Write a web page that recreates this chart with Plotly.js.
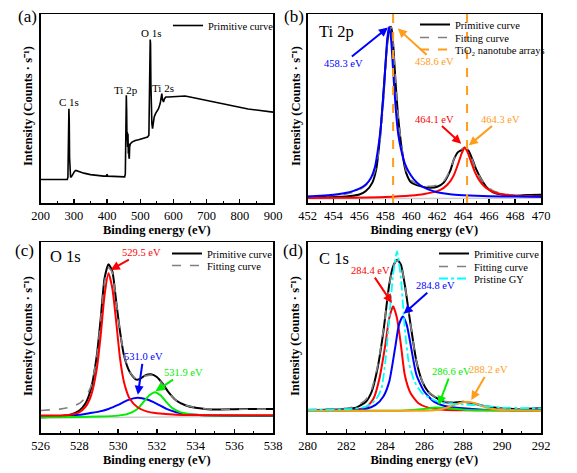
<!DOCTYPE html>
<html><head><meta charset="utf-8">
<script src="https://cdn.plot.ly/plotly-3.0.1.min.js"></script>
<style>html,body{margin:0;padding:0;background:#fff}#chart{width:577px;height:473px}</style>
</head><body><div id="chart"></div>
<script>
// ---------- (a) survey ----------
const surveyX = [200,220,240,260,275,280,282,283,284,285,286,287,288,290,293,297,302,306,315,330,350,370,390,398,400,402,420,440,453,455,456,457,458,459,460,461,462,463,464,465,466,467,468,470,475,485,495,505,515,522,526,528,529,530,531,532,533,535,537,539,542,546,550,555,560,563,565,567,570,573,577,585,600,620,635,650,675,700,725,750,775,800,825,850,875,900];
const surveyY = [12.4,12.4,12.2,12.2,12.2,12.4,13.6,22.5,40.2,49.9,43.7,24.2,14.5,13.6,14,15.4,16.8,17.2,16.6,15.8,15,14.5,14.2,14.2,15.2,14.2,14,13.8,13.8,15.4,27.8,45.5,57,49,33.1,37.5,29.6,36.6,26,31.3,24.2,23.4,29.6,31.3,32.2,33.1,33.5,34,34.5,34.9,35.8,54.3,75.6,86.5,84.4,63.2,49,41.9,39.3,41.9,45.5,47.3,48.5,49.9,52.6,57,57.9,54.7,53.5,55.2,56.1,56.1,56.3,56.5,56.6,56.1,55.2,54,53.1,52.2,51.2,50.4,49.7,49.2,48.7,48.1];
const surveyPeakNames = ['C 1s','Ti 2p','O 1s','Ti 2s'];
const surveyPeakX = [286,458,531,570];
const surveyPeakY = [53.5,60,89.7,61];

// ---------- (b) Ti 2p ----------
const tiX = [452,453,454,455,455.5,456,456.5,457,457.3,457.6,457.9,458.1,458.3,458.45,458.6,458.8,459,459.3,459.6,460,460.5,461,461.5,462,462.5,463,463.3,463.6,463.9,464.1,464.4,464.7,465,465.4,465.8,466.3,467,468,469,470];
const tiRawY = [3.2,3.2,3.3,3.5,3.8,4.5,6.3,10.8,17.9,35.8,62.7,80.6,92.3,93.2,84.2,62.7,44.8,26.9,16.1,10.8,9.3,8.4,8.1,8.6,10.8,17,23.3,26.9,28.1,29.2,27.8,23.3,17.9,12.5,8.4,5.7,4.5,3.9,4.2,4.3];
const tiFitY = [3.4,3.6,4.0,4.8,5.6,7,9.5,13.5,19.5,33,58,80,92,93,84,63,45,28,17.5,12,10,9,8.8,9.5,11.5,17.5,23.5,27,28.5,29.5,28,23,17.5,12.5,9,6.5,5,4,3.8,3.6];
const ti32X = [452,453,454,455,455.5,456,456.5,456.9,457.2,457.4,457.6,457.8,458,458.15,458.3,458.45,458.6,458.8,459,459.2,459.5,459.8,460.2,460.7,461.3,462,463,464,465,466,468,470];
const ti32Y = [3.4,3.8,4.4,5.4,6.3,7.6,9.8,13.4,19,26.9,37,52,72,87,93.2,86,70,50,36,28.7,21,16.5,12.5,9.3,7.2,5.7,4.6,4.1,3.8,3.6,3.4,3.3];
const ti12X = [452,455,458,460,461,462,462.5,463,463.3,463.6,463.9,464.1,464.3,464.6,464.9,465.2,465.6,466,466.5,467,468,470];
const ti12Y = [2.6,2.8,3.2,4,4.8,6.3,8,11.5,15,20.5,26.5,29.2,27.5,22,16.5,12.5,9,7,5.4,4.6,3.8,3.3];
const tiBaseX = [452,470];
const tiBaseY = [2.3,2.6];
const tio2RefX = [458.6,464.3];
const tiLabels = ['458.3 eV','458.6 eV','464.1 eV','464.3 eV'];

// ---------- (c) O 1s ----------
const oX = [526,527,527.5,528,528.3,528.6,528.9,529.1,529.3,529.5,529.7,529.9,530.1,530.3,530.6,530.9,531.1,531.4,531.7,532,532.3,532.6,533,533.5,534,534.5,535,536,537,538];
const oRawY = [8.2,8.8,9.5,11.8,15.3,23.2,40.7,60,81,88.4,84.6,68.8,53,40.7,31.9,28.1,28.1,30.2,30.7,29.3,25.8,21.4,17,14.4,13.2,12.6,12.3,12.5,12.6,12.6];
const oFitY = [11.8,12.5,13.5,15.5,18.5,24.5,40,59,79,86.5,84,69,53,41,32,28.5,28.3,29.8,30.3,29,25.5,21.2,17,14.5,13.3,12.7,12.4,12.4,12.5,12.5];
const oRedX = [526,527,527.5,528,528.3,528.6,528.9,529.1,529.3,529.5,529.7,529.9,530.1,530.3,530.6,531,531.5,532,533,534,536,538];
const oRedY = [9.1,9.2,9.5,10.9,13.5,19.6,33.7,51.2,72.3,83.7,75.8,58.2,38.9,26.7,17.9,13.5,11.2,10.4,9.6,9.4,9.3,9.3];
const oBlueX = [526,527,528,528.5,529,529.5,530,530.5,531,531.5,532,532.5,533,533.5,534,535,538];
const oBlueY = [8.8,8.9,9.5,10.4,11.2,12.6,14.7,17.2,18.4,17.5,15.3,12.6,10.9,10,9.5,9.1,8.9];
const oGreenX = [526,528,529,530,530.5,531,531.3,531.6,531.9,532.2,532.5,532.8,533.2,533.7,534.5,536,538];
const oGreenY = [8.2,8.4,8.6,9.1,10,12.6,16.1,19.6,21.4,19.6,16.1,13,10.9,9.8,9.3,9.1,9.1];
const oBaseX = [526,538];
const oBaseY = [7.9,8.8];
const oLabels = ['529.5 eV','531.0 eV','531.9 eV'];

// ---------- (d) C 1s ----------
const cX = [280,281,282,282.5,283,283.3,283.6,283.9,284.2,284.4,284.6,284.8,285,285.3,285.6,285.9,286.2,286.6,287,287.5,288,288.5,289,289.5,290,291,292];
const cRawY = [12.1,12.2,12.6,13.3,16.4,21.7,33.9,53.1,77.6,87.2,90.7,88.1,77.6,56.6,37.4,26.9,21.7,18.5,16.4,15.9,16.4,15.6,14.3,13.5,12.9,12.6,12.9];
const cFitY = [12.3,12.5,13,14,17.5,23,35,54,77,87,90.5,88,77.5,56.5,37.5,27,21.8,18.6,16.6,16,16.2,15.6,14.4,13.5,12.9,12.6,12.5];
const gyX = [280,282,283,283.5,283.8,284,284.2,284.4,284.6,284.8,285,285.2,285.5,285.9,286.5,287,288,289,290,292];
const gyY = [12.1,12.4,13.8,17.3,23.4,37.4,60.1,82.9,95.1,81.1,54.9,37.4,26.9,20.8,17.3,15.6,15,14.3,13.3,12.9];
const cRedX = [280,282,283,283.4,283.7,284,284.2,284.4,284.6,284.8,285,285.3,285.7,286.2,287,288,292];
const cRedY = [11.7,11.9,13.3,18.2,28.7,46.2,60.1,66.3,60.1,46.2,30.4,20.8,15.6,13.3,12.2,11.9,11.7];
const cBlueX = [280,282,283,283.5,283.9,284.2,284.5,284.7,284.9,285.1,285.3,285.6,286,286.5,287,288,289,292];
const cBlueY = [11.7,11.9,12.6,14.7,19.1,26.9,44.4,56.6,61,56.6,46.2,30.4,21.7,16.4,14.3,12.9,12.2,11.9];
const cGreenX = [280,285,286,286.6,287.2,288,289,292];
const cGreenY = [11.7,11.8,12.6,13.3,12.9,12.2,11.9,11.7];
const cOrangeX = [280,286,286.8,287.3,287.8,288.2,288.6,289,289.5,290,292];
const cOrangeY = [11.7,11.7,12.2,13.8,15.6,16.4,15.6,14,12.6,12.1,11.7];
const cLabels = ['284.4 eV','284.8 eV','286.6 eV','288.2 eV'];

// ---------- styling ----------
const FONT = '"Liberation Serif", "Times New Roman", Times, serif';
const BLUE = '#0000ff', RED = '#ff0000', GREEN = '#00ee00', ORANGE = '#ff9c1a', CYAN = '#00ffff', GRAY = '#808080';

function tr(x, y, ax, color, opt) {
  opt = opt || {};
  const t = {
    type: 'scatter', mode: 'lines', x: x, y: y,
    xaxis: 'x' + (ax === 1 ? '' : ax), yaxis: 'y' + (ax === 1 ? '' : ax),
    line: {color: color, width: opt.width || 2, dash: opt.dash || 'solid', shape: opt.linear ? 'linear' : 'spline', smoothing: 0.6},
    showlegend: !!opt.name, name: opt.name || '', hoverinfo: 'skip'
  };
  if (opt.legend) t.legend = opt.legend;
  return t;
}

// vertical reference lines for TiO2 nanotube arrays, built from tio2RefX
const refX = [], refY = [];
tio2RefX.forEach(v => { refX.push(v, v, null); refY.push(0, 100, null); });

const data = [
  tr(surveyX, surveyY, 1, '#000', {name: 'Primitive curve', width: 1.6, linear: true, legend: 'legend'}),

  tr(tiBaseX, tiBaseY, 2, '#cccccc', {width: 1.5}),
  tr(tiX, tiRawY, 2, '#000', {name: 'Primitive curve', legend: 'legend2'}),
  tr(tiX, tiFitY, 2, GRAY, {name: 'Fitting curve', dash: 'dash', width: 1.6, legend: 'legend3'}),
  tr(ti12X, ti12Y, 2, RED),
  tr(ti32X, ti32Y, 2, BLUE),
  tr(refX, refY, 2, ORANGE, {name: 'TiO₂ nanotube arrays', dash: 'dash', width: 2, linear: true, legend: 'legend4'}),

  tr(oBaseX, oBaseY, 3, '#cccccc', {width: 1.5}),
  tr(oX, oRawY, 3, '#000', {name: 'Primitive curve', legend: 'legend5'}),
  tr(oX, oFitY, 3, GRAY, {name: 'Fitting curve', dash: 'dash', width: 1.6, legend: 'legend6'}),
  tr(oBlueX, oBlueY, 3, BLUE),
  tr(oGreenX, oGreenY, 3, GREEN),
  tr(oRedX, oRedY, 3, RED),

  tr(cX, cRawY, 4, '#000', {name: 'Primitive curve', legend: 'legend7'}),
  tr(cX, cFitY, 4, GRAY, {name: 'Fitting curve', dash: 'dash', width: 1.6, legend: 'legend8'}),
  tr(cRedX, cRedY, 4, RED),
  tr(cBlueX, cBlueY, 4, BLUE),
  tr(cGreenX, cGreenY, 4, GREEN),
  tr(cOrangeX, cOrangeY, 4, ORANGE),
  tr(gyX, gyY, 4, CYAN, {name: 'Pristine GY', dash: 'dashdot', width: 1.8, legend: 'legend9'})
];

function xax(range, dtick, minor, dom, anchor) {
  return {
    domain: dom, anchor: anchor, range: range, dtick: dtick, tick0: range[0],
    ticks: 'inside', ticklen: 4, tickwidth: 1.3, tickcolor: '#000',
    minor: {dtick: minor, ticks: 'inside', ticklen: 2.5, tickwidth: 1, tickcolor: '#000'},
    showline: true, linecolor: '#000', linewidth: 1.5, mirror: true,
    showgrid: false, zeroline: false,
    tickfont: {family: FONT, size: 12.5, color: '#000'},
    title: {text: '<b>Binding energy (eV)</b>', font: {family: FONT, size: 12.5, color: '#000'}, standoff: 3}
  };
}
function yax(dom, anchor) {
  return {
    domain: dom, anchor: anchor, range: [0, 100], showticklabels: false, ticks: '',
    showline: true, linecolor: '#000', linewidth: 1.5, mirror: true,
    showgrid: false, zeroline: false
  };
}

const W = 577, H = 473;
const dxL = [40.7 / W, 273 / W], dxR = [307.5 / W, 541 / W];
const dyT = [1 - 203 / H, 1 - 14 / H], dyB = [1 - 433 / H, 1 - 242 / H];

function txt(x, y, ref, s, color, size, extra) {
  return Object.assign({x: x, y: y, xref: 'x' + ref, yref: 'y' + ref, text: s, showarrow: false,
    font: {family: FONT, size: size, color: color}}, extra || {});
}
// label placed at (tx, ty) with an arrow pointing at (hx, hy)
function lab(hx, hy, tx, ty, ref, s, color) {
  return {x: hx, y: hy, ax: tx, ay: ty, xref: 'x' + ref, yref: 'y' + ref, axref: 'x' + ref, ayref: 'y' + ref,
    text: s, showarrow: true, arrowhead: 2, arrowsize: 0.9, arrowwidth: 2, arrowcolor: color, standoff: 0,
    font: {family: FONT, size: 10.5, color: color}};
}
function paperText(s, px, py, size, extra) {
  return Object.assign({x: px / W, y: 1 - py / H, xref: 'paper', yref: 'paper', xanchor: 'center', yanchor: 'middle',
    text: s, showarrow: false, font: {family: FONT, size: size, color: '#000'}}, extra || {});
}
const yTitle = '<b>Intensity (Counts · s⁻¹)</b>';

const annotations = [
  paperText('(a)', 27, 17, 17), paperText('(b)', 294, 17, 17), paperText('(c)', 24, 250, 17), paperText('(d)', 293, 250, 17),
  paperText(yTitle, 28, 106, 12.5, {textangle: -90}),
  paperText(yTitle, 296, 106, 12.5, {textangle: -90}),
  paperText(yTitle, 28, 336, 12.5, {textangle: -90}),
  paperText(yTitle, 295, 336, 12.5, {textangle: -90}),
  // (a)
  ...surveyPeakNames.map((n, i) => txt(surveyPeakX[i], surveyPeakY[i], '', n, '#000', 11)),
  // (b)
  txt(452.7, 90.5, '2', 'Ti 2p', '#000', 16.5, {xanchor: 'left'}),
  lab(458.2, 92.8, 454.75, 73.8, '2', tiLabels[0], BLUE),
  lab(458.96, 92.3, 461.77, 74.7, '2', tiLabels[1], ORANGE),
  lab(463.85, 31.4, 461.77, 44.4, '2', tiLabels[2], RED),
  lab(464.44, 30.5, 466.87, 44.4, '2', tiLabels[3], ORANGE),
  // (c)
  txt(526.38, 92.5, '3', 'O 1s', '#000', 16.5, {xanchor: 'left'}),
  lab(529.62, 85.4, 531.2, 94.4, '3', oLabels[0], RED),
  lab(531.02, 20, 531.3, 39.8, '3', oLabels[1], BLUE),
  lab(531.93, 21.8, 533.38, 31.6, '3', oLabels[2], GREEN),
  // (d)
  txt(280.48, 91.6, '4', 'C 1s', '#000', 16.5, {xanchor: 'left'}),
  lab(284.34, 68, 283.22, 85, '4', cLabels[0], RED),
  lab(284.94, 62.4, 286.56, 77.1, '4', cLabels[1], BLUE),
  lab(286.74, 14.7, 287.39, 32.2, '4', cLabels[2], GREEN),
  lab(288.42, 17.3, 289.31, 33, '4', cLabels[3], ORANGE)
];

// one single-entry legend per row so that the row spacing matches the reference
function leg(px, rowY) {
  return {x: px / W, y: 1 - (rowY - 14) / H, xanchor: 'left', yanchor: 'top', bgcolor: 'rgba(0,0,0,0)',
    borderwidth: 0, font: {family: FONT, size: 10.5, color: '#000'}, tracegroupgap: 0, itemwidth: 30};
}

const layout = {
  width: W, height: H, margin: {l: 0, r: 0, t: 0, b: 0},
  paper_bgcolor: '#fff', plot_bgcolor: '#fff', showlegend: true,
  xaxis: xax([200, 900], 100, 50, dxL, 'y'), yaxis: yax(dyT, 'x'),
  xaxis2: xax([452, 470], 2, 1, dxR, 'y2'), yaxis2: yax(dyT, 'x2'),
  xaxis3: xax([526, 538], 2, 1, dxL, 'y3'), yaxis3: yax(dyB, 'x3'),
  xaxis4: xax([280, 292], 2, 1, dxR, 'y4'), yaxis4: yax(dyB, 'x4'),
  legend: leg(168, 25),
  legend2: leg(415, 24), legend3: leg(415, 37), legend4: leg(415, 49),
  legend5: leg(167, 253), legend6: leg(167, 265),
  legend7: leg(434, 253), legend8: leg(434, 266), legend9: leg(434, 278),
  annotations: annotations
};

Plotly.newPlot('chart', data, layout, {staticPlot: true, displayModeBar: false});
</script></body></html>
